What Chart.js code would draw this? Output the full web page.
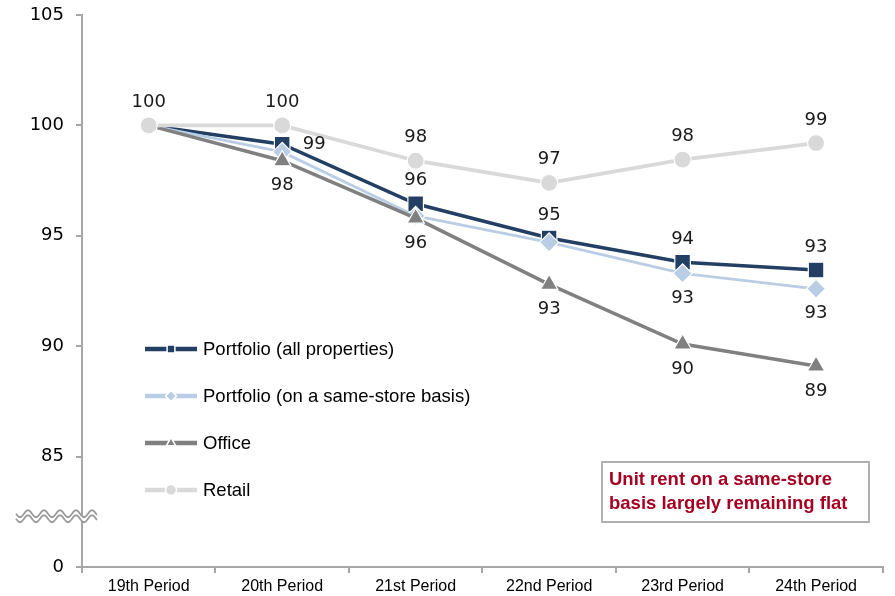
<!DOCTYPE html>
<html>
<head>
<meta charset="utf-8">
<script src="https://cdn.jsdelivr.net/npm/chart.js@4.4.0/dist/chart.umd.min.js"></script>
<style>
html, body { margin: 0; padding: 0; background: #fff; }
#wrap { width: 895px; height: 596px; position: relative; }
</style>
</head>
<body>
<div id="wrap"><canvas id="rentChart"></canvas></div>
<script>
const periods = ['19th Period', '20th Period', '21st Period', '22nd Period', '23rd Period', '24th Period'];
const portfolioAll = [100, 99.15, 96.45, 94.9, 93.8, 93.45];
const portfolioSameStore = [100, 98.8, 95.9, 94.7, 93.3, 92.6];
const office = [100, 98.4, 95.8, 92.8, 90.1, 89.1];
const retail = [100, 100, 98.4, 97.4, 98.45, 99.2];

// the axis is broken: the bottom tick (80) is labelled 0
const yTickValues = [80, 85, 90, 95, 100, 105];
const yTickLabels = ['0', '85', '90', '95', '100', '105'];
const noteLines = ['Unit rent on a same-store', 'basis largely remaining flat'];

const AXIS = '#a6a6a6';
const hideFirst = r => ctx => ctx.dataIndex === 0 ? 0 : r;

const datasets = [
    {
        label: 'Portfolio (all properties)',
        data: portfolioAll,
        borderColor: '#243f64',
        backgroundColor: '#243f64',
        borderWidth: 3.5,
        pointStyle: 'rect',
        pointRadius: hideFirst(11),
        order: 3,
        labelPos: [null, 'right', 'top', 'top', 'top', 'top']
    },
    {
        label: 'Portfolio (on a same-store basis)',
        data: portfolioSameStore,
        borderColor: '#b9cde5',
        backgroundColor: '#b9cde5',
        borderWidth: 2.8,
        pointStyle: 'rectRot',
        pointRadius: hideFirst(9.5),
        order: 2,
        labelPos: [null, null, null, null, 'bottom', 'bottom']
    },
    {
        label: 'Office',
        data: office,
        borderColor: '#808080',
        backgroundColor: '#808080',
        borderWidth: 3.5,
        pointStyle: 'triangle',
        pointRadius: hideFirst(10),
        order: 1,
        labelPos: [null, 'bottom', 'bottom', 'bottom', 'bottom', 'bottom']
    },
    {
        label: 'Retail',
        data: retail,
        borderColor: '#d9d9d9',
        backgroundColor: '#d9d9d9',
        borderWidth: 3.8,
        pointStyle: 'circle',
        pointRadius: 8.5,
        order: 0,
        labelPos: ['top', 'top', 'top', 'top', 'top', 'top']
    }
];
datasets.forEach(ds => {
    ds.pointBorderColor = '#ffffff';
    ds.pointBorderWidth = 1.2;
    ds.tension = 0;
    ds.fill = false;
});

const valueLabels = {
    id: 'valueLabels',
    afterDatasetsDraw(chart) {
        const ctx = chart.ctx;
        ctx.save();
        ctx.font = '18px "DejaVu Sans"';
        ctx.fillStyle = '#1a1a1a';
        ctx.textAlign = 'center';
        ctx.textBaseline = 'middle';
        chart.data.datasets.forEach((ds, i) => {
            const meta = chart.getDatasetMeta(i);
            meta.data.forEach((pt, j) => {
                const pos = ds.labelPos[j];
                if (!pos) return;
                const txt = String(Math.round(ds.data[j]));
                let x = pt.x, y = pt.y;
                if (pos === 'top') y -= 23;
                else if (pos === 'bottom') y += 25;
                else if (pos === 'right') x += 32;
                ctx.fillText(txt, x, y);
            });
        });
        ctx.restore();
    }
};

const insideLegend = {
    id: 'insideLegend',
    afterDraw(chart) {
        const ctx = chart.ctx;
        const rows = [349, 396, 443, 490];
        ctx.save();
        datasets.forEach((ds, i) => {
            const y = rows[i];
            ctx.strokeStyle = ds.borderColor;
            ctx.lineWidth = 4.5;
            ctx.beginPath();
            ctx.moveTo(145, y);
            ctx.lineTo(197, y);
            ctx.stroke();
            ctx.fillStyle = ds.backgroundColor;
            ctx.strokeStyle = '#ffffff';
            ctx.lineWidth = 1.5;
            Chart.helpers.drawPoint(ctx, { pointStyle: ds.pointStyle, radius: 5.5, borderWidth: 1.5, rotation: 0 }, 171, y);
            ctx.fillStyle = '#000000';
            ctx.font = '18.5px "Liberation Sans", Arial, sans-serif';
            ctx.textAlign = 'left';
            ctx.textBaseline = 'middle';
            ctx.fillText(ds.label, 203, y + 1);
        });
        ctx.restore();
    }
};

const axisBreakAndNote = {
    id: 'axisBreakAndNote',
    afterDraw(chart) {
        const ctx = chart.ctx;
        const yc = chart.scales.y.getPixelForValue(82.3);
        const x0 = 16, x1 = 97, amp = 3.5, period = 16, gap = 5;
        const wave = (off) => {
            const pts = [];
            for (let x = x0; x <= x1; x += 1) {
                pts.push([x, yc + off + amp * Math.sin((x - x0) / period * 2 * Math.PI)]);
            }
            return pts;
        };
        const top = wave(-gap / 2), bot = wave(gap / 2);
        ctx.save();
        ctx.fillStyle = '#ffffff';
        ctx.beginPath();
        top.forEach((p, k) => k ? ctx.lineTo(p[0], p[1]) : ctx.moveTo(p[0], p[1]));
        bot.slice().reverse().forEach(p => ctx.lineTo(p[0], p[1]));
        ctx.closePath();
        ctx.fill();
        ctx.strokeStyle = '#9a9a9a';
        ctx.lineWidth = 1.8;
        [top, bot].forEach(line => {
            ctx.beginPath();
            line.forEach((p, k) => k ? ctx.lineTo(p[0], p[1]) : ctx.moveTo(p[0], p[1]));
            ctx.stroke();
        });

        // note box
        ctx.strokeStyle = '#b0b0b0';
        ctx.lineWidth = 2;
        ctx.strokeRect(602, 462, 267, 60);
        ctx.fillStyle = '#a50021';
        ctx.font = 'bold 18.5px "Liberation Sans", Arial, sans-serif';
        ctx.textAlign = 'left';
        ctx.textBaseline = 'middle';
        ctx.fillText(noteLines[0], 609, 480);
        ctx.fillText(noteLines[1], 609, 504);
        ctx.restore();
    }
};

new Chart(document.getElementById('rentChart'), {
    type: 'line',
    data: { labels: periods, datasets: datasets },
    options: {
        responsive: true,
        maintainAspectRatio: false,
        animation: false,
        layout: { padding: { top: 15, right: 8, left: 0, bottom: 0 } },
        plugins: {
            legend: { display: false },
            tooltip: { enabled: false }
        },
        scales: {
            x: {
                offset: true,
                afterFit: s => { s.height = 29; s.paddingLeft = 0; s.paddingRight = 0; },
                grid: { offset: true, drawOnChartArea: false, drawTicks: true, tickLength: 6, color: AXIS, lineWidth: 2 },
                border: { color: AXIS, width: 2 },
                ticks: { color: '#000', padding: 4, font: { family: '"Liberation Sans", Arial, sans-serif', size: 16 } }
            },
            y: {
                min: 80,
                max: 105,
                afterFit: s => { s.width = 82; s.paddingTop = 0; s.paddingBottom = 0; },
                afterBuildTicks: s => { s.ticks = yTickValues.map(v => ({ value: v })); },
                grid: { drawOnChartArea: false, drawTicks: true, tickLength: 6, color: AXIS, lineWidth: 2 },
                border: { color: AXIS, width: 2 },
                ticks: {
                    color: '#000',
                    padding: 12,
                    font: { family: '"DejaVu Sans", Verdana, sans-serif', size: 18 },
                    callback: v => yTickLabels[yTickValues.indexOf(v)]
                }
            }
        }
    },
    plugins: [valueLabels, insideLegend, axisBreakAndNote]
});
</script>
</body>
</html>
